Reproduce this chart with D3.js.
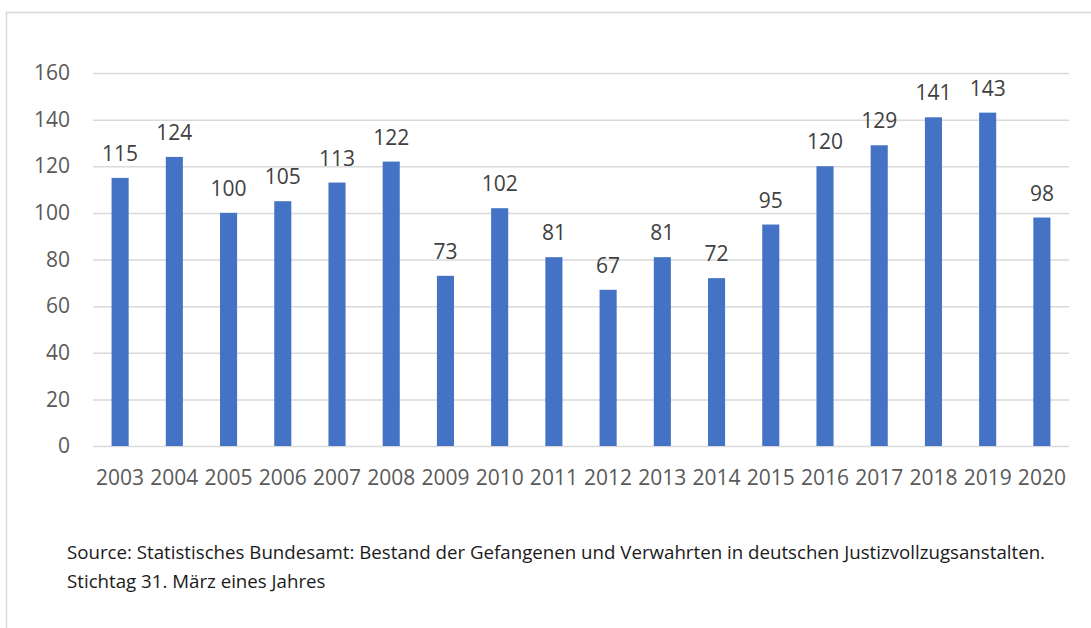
<!DOCTYPE html>
<html>
<head>
<meta charset="utf-8">
<script src="https://cdn.jsdelivr.net/npm/d3@7"></script>
<style>
  body { margin: 0; background: #fff; }
  svg { display: block; }
  text { font-family: "Open Sans", sans-serif; }
</style>
</head>
<body>
<div id="chart"></div>
<script>
const years = ["2003", "2004", "2005", "2006", "2007", "2008", "2009", "2010", "2011",
    "2012", "2013", "2014", "2015", "2016", "2017", "2018", "2019", "2020"];
const counts = [115, 124, 100, 105, 113, 122, 73, 102, 81, 67, 81, 72, 95, 120, 129, 141, 143, 98];
const yTicks = [0, 20, 40, 60, 80, 100, 120, 140, 160];
const sourceLines = [
    "Source: Statistisches Bundesamt: Bestand der Gefangenen und Verwahrten in deutschen Justizvollzugsanstalten.",
    "Stichtag 31. März eines Jahres"
];

const WIDTH = 1091;
const HEIGHT = 628;
const margin = { top: 73, right: 22, bottom: 182, left: 93 };

const svg = d3.select("#chart")
    .append("svg")
    .attr("width", WIDTH)
    .attr("height", HEIGHT);

// chart frame (only top/left/right visible in the picture)
svg.append("path")
    .attr("d", `M6.5,${HEIGHT} V12.5 H${WIDTH}`)
    .attr("fill", "none")
    .attr("stroke", "#d9d9d9")
    .attr("stroke-width", 1.5);

const x = d3.scaleBand()
    .domain(years)
    .range([margin.left, WIDTH - margin.right])
    .paddingInner(0.685)
    .paddingOuter(0.3425);

const y = d3.scaleLinear()
    .domain([0, 160])
    .range([HEIGHT - margin.bottom, margin.top]);

const grid = svg.append("g")
    .attr("transform", `translate(${margin.left},0)`)
    .call(d3.axisLeft(y)
        .tickValues(yTicks)
        .tickSize(-(WIDTH - margin.left - margin.right))
        .tickPadding(23)
        .tickFormat(d3.format("d")));
grid.select(".domain").remove();
grid.selectAll(".tick line").attr("stroke", "#d9d9d9").attr("stroke-width", 1.5);
grid.selectAll(".tick text")
    .attr("fill", "#595959")
    .style("font-size", "21px");

svg.append("g")
    .selectAll("rect")
    .data(counts)
    .join("rect")
    .attr("x", (d, i) => x(years[i]))
    .attr("width", x.bandwidth())
    .attr("y", d => y(d))
    .attr("height", d => y(0) - y(d))
    .attr("fill", "#4472c4");

svg.append("g")
    .selectAll("text")
    .data(counts)
    .join("text")
    .attr("x", (d, i) => x(years[i]) + x.bandwidth() / 2)
    .attr("y", d => y(d) - 17)
    .attr("text-anchor", "middle")
    .attr("fill", "#404040")
    .style("font-size", "21px")
    .text(d => d);

const xAxis = svg.append("g")
    .attr("transform", `translate(0,${y(0)})`)
    .call(d3.axisBottom(x).tickSize(0).tickPadding(24));
xAxis.select(".domain").remove();
xAxis.selectAll(".tick text")
    .attr("fill", "#595959")
    .style("font-size", "21px");

svg.append("g")
    .selectAll("text")
    .data(sourceLines)
    .join("text")
    .attr("x", 67)
    .attr("y", (d, i) => 559 + i * 29)
    .attr("fill", "#1a1a1a")
    .style("font-size", "18.7px")
    .text(d => d);
</script>
</body>
</html>
